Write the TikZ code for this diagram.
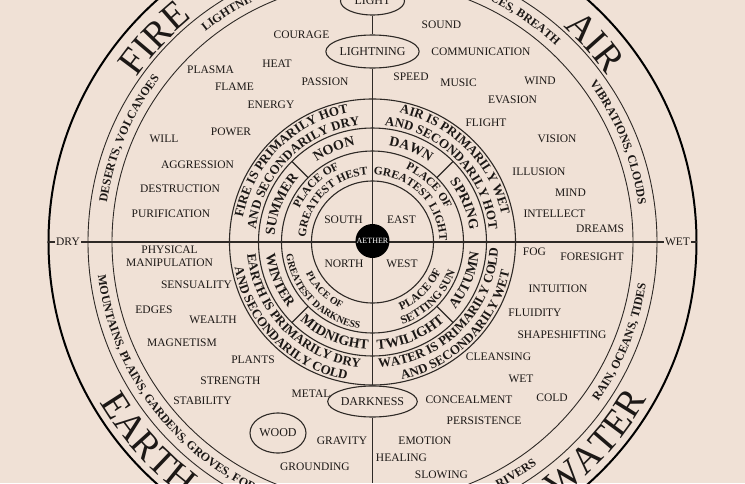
\documentclass[tikz,border=0pt]{standalone}
\usepackage{fontspec}
\setmainfont{Liberation Serif}
\usepackage{tikz}
\usetikzlibrary{shapes.geometric,decorations.text}
\definecolor{Paper}{RGB}{240,225,214}
\definecolor{Ink}{HTML}{1C1816}
\definecolor{Rule}{HTML}{2E2926}
\newcommand{\ringtext}[6][center]{%
  \path[decorate, decoration={text along path, text align=#1, text color=Ink,
      text={|\fontsize{#2}{#2}\selectfont\bfseries|#6}}]
    (#4:#3pt) arc[start angle=#4, end angle=#5, radius=#3pt];}
\newcommand{\elementname}[4]{%
  \path[decorate, decoration={text along path, text align=center, text color=Ink,
      text={|\fontsize{38}{38}\selectfont|#4}}]
    (#2:#1pt) arc[start angle=#2, end angle=#3, radius=#1pt];}

\begin{document}
\begin{tikzpicture}[x=1pt, y=1pt,
  word/.style={font=\fontsize{11.5}{12.5}\selectfont, text=Ink, inner sep=1pt},
  oval/.style={ellipse, draw=Rule, line width=1.1pt, inner sep=0pt,
    font=\fontsize{12}{14}\selectfont, text=Ink},
  ring/.style={draw=Rule, line width=1.1pt},
  axis/.style={draw=Rule, line width=1.4pt}]
  \useasboundingbox (-372.5,-241) rectangle (372.5,242);
  \fill[Paper] (-372.5,-241) rectangle (372.5,242);

  \draw[black, line width=2pt] (0,0) circle[radius=324pt];
  \draw[ring, line width=0.9pt] (0,0) circle[radius=284.5pt] (0,0) circle[radius=260.5pt];
  \foreach \r in {143,114,91,61} \draw[ring] (0,0) circle[radius=\r pt];
  \foreach \a in {45,135,225,315} \draw[ring] (\a:91pt) -- (\a:114pt);

  \coordinate (dryend) at (-324,0);
  \coordinate (wetend) at (324,0);
  \node[word] (dry) at (-304.5,0) {DRY};
  \node[word] (wet) at (305,0) {WET};
  \draw[axis] (dryend) -- (dry) -- (wet) -- (wetend);

  \node[oval, minimum width=64pt, minimum height=28pt] (light) at (0,241) {LIGHT};
  \node[oval, minimum width=89pt, minimum height=33pt] (lightning) at (0,190.5) {LIGHTNING};
  \node[oval, minimum width=77pt, minimum height=31pt] (darkness) at (0,-159.5) {DARKNESS};
  \node[oval, minimum width=56pt, minimum height=40pt] (wood) at (-94.5,-191) {WOOD};
  \coordinate (nadir) at (0,-241);
  \draw[axis] (light) -- (lightning) -- (darkness) -- (nadir);

  \node[circle, fill=black, minimum size=34pt, inner sep=0pt, text=white,
    font=\fontsize{8}{9}\selectfont] (aether) at (0,1) {AETHER};

  \elementname{287.5}{170}{104}{FIRE}
  \elementname{287.5}{76}{8}{AIR}
  \elementname{316.5}{192}{252}{EARTH}
  \elementname{316.5}{-72}{-12}{WATER}

  \ringtext{12}{268.5}{180}{134}{DESERTS, VOLCANOES}
  \ringtext[left]{12}{268.5}{128.5}{60}{LIGHTNING}
  \ringtext[right]{12}{268.5}{120}{47}{SPACES, BREATH}
  \ringtext{12}{268.5}{44}{0}{VIBRATIONS, CLOUDS}
  \ringtext[left]{12}{276.5}{187}{280}{MOUNTAINS, PLAINS, GARDENS, GROVES, FORESTS}
  \ringtext[right]{12}{276.5}{-100}{-53.5}{RIVERS}
  \ringtext{12}{276.5}{-45}{1}{RAIN, OCEANS, TIDES}

  \ringtext{13}{131.7}{180}{90}{FIRE IS PRIMARILY HOT}
  \ringtext{13}{117.2}{180}{90}{AND SECONDARILY DRY}
  \ringtext{13}{131.7}{90}{0}{AIR IS PRIMARILY WET}
  \ringtext{13}{117.2}{90}{0}{AND SECONDARILY HOT}
  \ringtext{13}{125.8}{180}{270}{EARTH IS PRIMARILY DRY}
  \ringtext{13}{140.3}{180}{270}{AND SECONDARILY COLD}
  \ringtext{13}{125.8}{-90}{0}{WATER IS PRIMARILY COLD}
  \ringtext{13}{140.3}{-90}{0}{AND SECONDARILY WET}

  \ringtext{14}{97.9}{135}{90}{NOON}
  \ringtext{14}{97.9}{180}{135}{SUMMER}
  \ringtext{14}{97.9}{90}{45}{DAWN}
  \ringtext{14}{97.9}{45}{0}{SPRING}
  \ringtext{14}{107.1}{180}{225}{WINTER}
  \ringtext{14}{107.1}{225}{270}{MIDNIGHT}
  \ringtext{14}{107.1}{270}{315}{TWILIGHT}
  \ringtext{14}{107.1}{315}{360}{AUTUMN}

  \ringtext{11.5}{80.2}{180}{90}{PLACE OF}
  \ringtext{11.5}{67}{180}{90}{GREATEST HEST}
  \ringtext{11.5}{80.2}{90}{0}{PLACE OF}
  \ringtext{11.5}{67}{90}{0}{GREATEST LIGHT}
  \ringtext{10}{73.8}{180}{270}{PLACE OF}
  \ringtext{10}{87.3}{180}{270}{GREATEST DARKNESS}
  \ringtext{11.5}{74.3}{-90}{0}{PLACE OF}
  \ringtext{11.5}{87.8}{-90}{0}{SETTING SUN}

  \node[word] (south) at (-29,22) {SOUTH};
  \node[word] (east) at (29,22.5) {EAST};
  \node[word] (north) at (-28.5,-21.5) {NORTH};
  \node[word] (west) at (29.5,-21.5) {WEST};

  \node[word] (courage) at (-71,207) {COURAGE};
  \node[word] (heat) at (-95.5,178) {HEAT};
  \node[word] (passion) at (-47.5,160) {PASSION};
  \node[word] (energy) at (-101.5,137) {ENERGY};
  \node[word] (plasma) at (-162,172) {PLASMA};
  \node[word] (flame) at (-138,155) {FLAME};
  \node[word] (power) at (-141.5,110) {POWER};
  \node[word] (will) at (-208.5,103) {WILL};
  \node[word] (aggression) at (-175,77) {AGGRESSION};
  \node[word] (destruction) at (-192.5,53.5) {DESTRUCTION};
  \node[word] (purification) at (-201.5,28) {PURIFICATION};
  \node[word, align=center] (physical) at (-203,-14) {PHYSICAL\\MANIPULATION};
  \node[word] (sensuality) at (-176,-42.5) {SENSUALITY};
  \node[word] (edges) at (-218.5,-67.5) {EDGES};
  \node[word] (wealth) at (-159.5,-78) {WEALTH};
  \node[word] (magnetism) at (-190.5,-100.5) {MAGNETISM};
  \node[word] (plants) at (-119.5,-118) {PLANTS};
  \node[word] (strength) at (-142,-139) {STRENGTH};
  \node[word] (stability) at (-170,-158.5) {STABILITY};
  \node[word] (metal) at (-61.5,-151.5) {METAL};
  \node[word] (gravity) at (-30.5,-198.5) {GRAVITY};
  \node[word] (grounding) at (-57.5,-225) {GROUNDING};
  \node[word] (emotion) at (52.5,-199) {EMOTION};
  \node[word] (healing) at (29,-216) {HEALING};
  \node[word] (slowing) at (69,-233) {SLOWING};
  \node[word] (concealment) at (96.5,-158) {CONCEALMENT};
  \node[word] (persistence) at (111.5,-179) {PERSISTENCE};
  \node[word] (cleansing) at (126,-115) {CLEANSING};
  \node[word] (wetword) at (148.5,-137) {WET};
  \node[word] (cold) at (179.5,-156) {COLD};
  \node[word] (shapeshifting) at (189.5,-93) {SHAPESHIFTING};
  \node[word] (fluidity) at (162.5,-71) {FLUIDITY};
  \node[word] (intuition) at (185.5,-46.5) {INTUITION};
  \node[word] (fog) at (162,-10) {FOG};
  \node[word] (foresight) at (219.5,-15) {FORESIGHT};
  \node[word] (dreams) at (227.5,13) {DREAMS};
  \node[word] (intellect) at (182,28) {INTELLECT};
  \node[word] (mind) at (198,49) {MIND};
  \node[word] (illusion) at (166.5,70) {ILLUSION};
  \node[word] (vision) at (184.5,103) {VISION};
  \node[word] (flight) at (113.5,119) {FLIGHT};
  \node[word] (evasion) at (140,142) {EVASION};
  \node[word] (wind) at (167.5,161) {WIND};
  \node[word] (music) at (86,159) {MUSIC};
  \node[word] (speed) at (38.5,165) {SPEED};
  \node[word] (communication) at (108.5,190) {COMMUNICATION};
  \node[word] (sound) at (69,217) {SOUND};
\end{tikzpicture}
\end{document}
